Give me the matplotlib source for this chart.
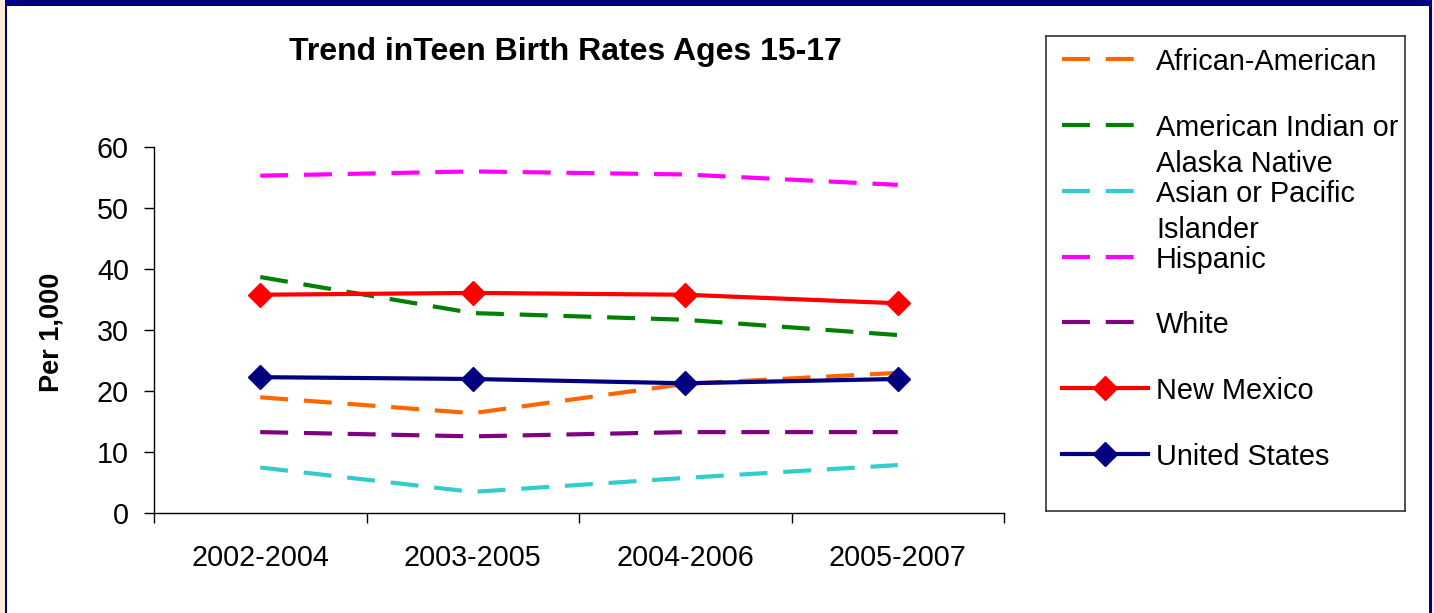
import matplotlib
matplotlib.use("Agg")
import matplotlib.pyplot as plt
from matplotlib.patches import Rectangle

plt.rcParams['font.family'] = ['Liberation Sans', 'DejaVu Sans']

# ---- data ----
periods = ['2002-2004', '2003-2005', '2004-2006', '2005-2007']
series_names = ['African-American', 'American Indian or\nAlaska Native',
                'Asian or Pacific\nIslander', 'Hispanic', 'White',
                'New Mexico', 'United States']
african_american = [19.0, 16.4, 21.2, 23.0]
american_indian = [38.7, 32.8, 31.7, 29.2]
asian_pacific = [7.5, 3.5, 5.8, 7.9]
hispanic = [55.3, 56.0, 55.5, 53.8]
white = [13.3, 12.6, 13.3, 13.3]
new_mexico = [35.8, 36.1, 35.8, 34.4]
united_states = [22.3, 22.0, 21.3, 22.0]
y_ticks = [0, 10, 20, 30, 40, 50, 60]

series_values = [african_american, american_indian, asian_pacific, hispanic,
                 white, new_mexico, united_states]
colors = ['#FF6600', '#008000', '#33CCCC', '#FF00FF', '#800080', '#FF0000', '#000080']
dashed = [True, True, True, True, True, False, False]

W, H = 1434, 613
fig = plt.figure(figsize=(W / 100, H / 100), dpi=100)
fig.patch.set_facecolor('white')

# frame decorations (navy border with peach edges)
fig.patches.append(Rectangle((0, 0), 5 / W, 1, transform=fig.transFigure,
                             facecolor='#FDEADA', edgecolor='none', zorder=0))
fig.patches.append(Rectangle((1432 / W, 0), 2 / W, 1, transform=fig.transFigure,
                             facecolor='#FDEADA', edgecolor='none', zorder=0))
fig.patches.append(Rectangle((5 / W, 0), 2.2 / W, 1, transform=fig.transFigure,
                             facecolor='#000080', edgecolor='none', zorder=0))
fig.patches.append(Rectangle((1429 / W, 0), 2.5 / W, 1, transform=fig.transFigure,
                             facecolor='#000080', edgecolor='none', zorder=0))
fig.patches.append(Rectangle((5 / W, 1 - 6 / H), 1426.5 / W, 6 / H, transform=fig.transFigure,
                             facecolor='#000080', edgecolor='none', zorder=0))

# ---- main axes ----
ax_left, ax_right, ax_top, ax_bottom = 154, 1004, 147, 513.3
ax = fig.add_axes([ax_left / W, 1 - ax_bottom / H, (ax_right - ax_left) / W,
                   (ax_bottom - ax_top) / H])
ax.set_facecolor('white')

x = [i + 0.5 for i in range(len(periods))]
lw = 3.0
dash = (6.7, 3.8)
msize = 12.5
for vals, col, d in zip(series_values, colors, dashed):
    if d:
        ax.plot(x, vals, color=col, lw=lw, linestyle=(0, dash), dash_capstyle='butt', zorder=2)
    else:
        ax.plot(x, vals, color=col, lw=lw, marker='D', markersize=msize,
                markeredgecolor=col, markerfacecolor=col, zorder=3)

ax.set_xlim(0, len(periods))
ax.set_ylim(0, 60)
ax.set_yticks(y_ticks)
ax.set_yticklabels([str(t) for t in y_ticks])
ax.set_xticks(range(len(periods) + 1))
ax.set_xticklabels([])
ax.set_xticks(x, minor=True)
ax.set_xticklabels(periods, minor=True)
ax.tick_params(axis='x', which='major', direction='out', length=7, width=1, color='black')
ax.tick_params(axis='x', which='minor', length=0, pad=22, labelsize=20.7)
ax.tick_params(axis='y', direction='out', length=7, width=1, pad=11, labelsize=20.7)
for s in ['top', 'right']:
    ax.spines[s].set_visible(False)
for s in ['left', 'bottom']:
    ax.spines[s].set_linewidth(1)
    ax.spines[s].set_color('black')

fig.text(565 / W, 1 - 52 / H, 'Trend inTeen Birth Rates Ages 15-17', ha='center',
         va='center', fontsize=23, fontweight='bold')
fig.text(52 / W, 1 - 332 / H, 'Per 1,000', rotation=90, ha='center', va='center',
         fontsize=19.5, fontweight='bold')

# ---- legend ----
lg_l, lg_r, lg_t, lg_b = 1046, 1405, 36, 511
lax = fig.add_axes([lg_l / W, 1 - lg_b / H, (lg_r - lg_l) / W, (lg_b - lg_t) / H])
lax.set_xlim(lg_l, lg_r)
lax.set_ylim(lg_b, lg_t)
lax.set_xticks([])
lax.set_yticks([])
for s in lax.spines.values():
    s.set_linewidth(1.2)
    s.set_color('#333333')
row0, row_step = 59.4, 65.7
for i, (name, col, d) in enumerate(zip(series_names, colors, dashed)):
    yy = row0 + i * row_step
    if d:
        lax.plot([1062, 1148], [yy, yy], color=col, lw=lw, linestyle=(0, (6.7, 3.8)),
                 dash_capstyle='butt')
    else:
        lax.plot([1062, 1148], [yy, yy], color=col, lw=lw)
        lax.plot([1105], [yy], marker='D', markersize=msize, color=col)
    for j, line in enumerate(name.split('\n')):
        lax.text(1156, yy + j * 36, line, ha='left', va='center_baseline', fontsize=20.8)

fig.savefig('out.png', dpi=100)
